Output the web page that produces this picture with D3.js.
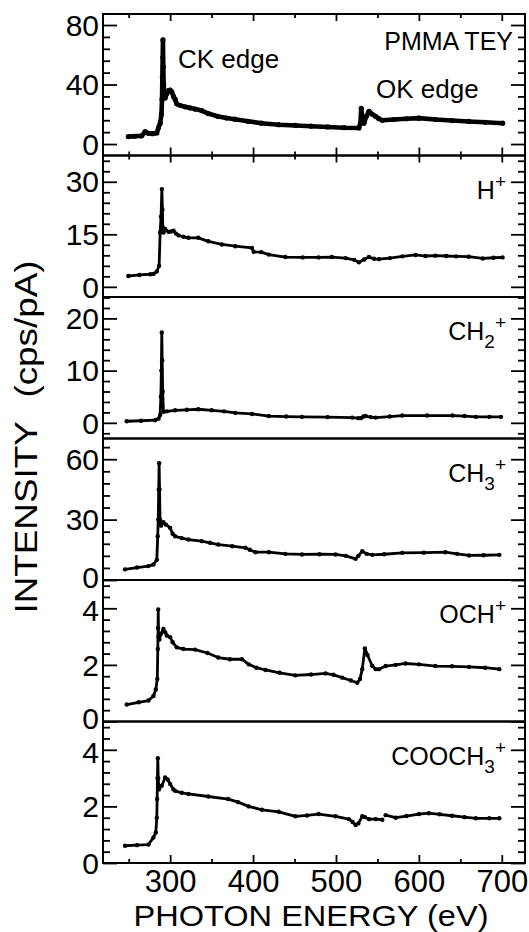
<!DOCTYPE html>
<html lang="en">
  <head>
    <meta charset="UTF-8" />
    <title>PMMA ion yields</title>
    <style>
      body { margin: 0; background: #fff; }
      svg { display: block; }
      text { font-family: "Liberation Sans", Arial, Helvetica, sans-serif; fill: #000; }
    </style>
  </head>
  <body>
    <svg width="529" height="932"></svg>
    <script src="https://cdnjs.cloudflare.com/ajax/libs/d3/7.8.5/d3.min.js"></script>
    <script>
      // [photon energy (eV), intensity (cps/pA)]
      var teyData = [
        [249.6, 5], [257, 5.2], [265.7, 5.5], [269.8, 8.3], [273.8, 7.2], [279, 7], [283.9, 7.5],
        [285.9, 11], [288, 14], [289.5, 20], [290.2, 30], [290.6, 45], [291, 58], [291.3, 70],
        [291.7, 52], [292.2, 40], [293, 33], [294, 31], [296, 34], [298, 36], [300, 36.3],
        [302, 35], [304, 32], [306, 30], [308, 27], [312, 26], [318, 25], [324, 24.3],
        [330, 23.5], [338, 22.5], [346, 20.5], [358, 18.5], [368, 17.5], [378, 16.7],
        [394, 15.3], [410, 14], [431, 13], [451, 12.5], [470, 12], [490, 11.5], [510, 11],
        [527.7, 10.8], [529.5, 14], [530.5, 24], [531.5, 18], [533.7, 14], [537, 19],
        [539.8, 22], [543.8, 20], [547.8, 18.6], [551.9, 17], [555.9, 16], [570, 16.5],
        [585, 17], [600, 17.4], [620, 16.5], [640, 15.8], [660, 15.2], [680, 14.6], [701, 14]
      ];
      var hData = [
        [249.6, 3.1], [263, 3.4], [276, 3.6], [279.8, 3.7], [283.9, 4.4], [286.7, 6],
        [287.9, 15.5], [289, 20], [290, 27.9], [290.7, 22], [291.1, 17], [292, 15.5],
        [294, 16.5], [298, 15.7], [301, 15.8], [304, 16], [307, 15.2], [310, 14.7],
        [316, 14.3], [322, 14], [334, 14], [346, 13], [362.5, 12.1], [378.6, 11.6],
        [398.7, 11.1], [400.8, 10], [410, 9.9], [419, 9.2], [439, 8.5], [460, 8.4],
        [479, 8.4], [495, 8.5], [511.6, 8.2], [522, 7.7], [527.7, 7], [534, 7.8],
        [539.8, 8.5], [546, 8], [551.9, 7.9], [565, 8.2], [580, 8.7], [596, 9.1],
        [608, 8.8], [620, 8.9], [633, 8.8], [645, 8.7], [660, 8.6], [677, 8.1],
        [690, 8.3], [701, 8.4]
      ];
      var ch2Data = [
        [247.6, 0.3], [265, 0.4], [281.9, 0.5], [286, 0.8], [287.9, 1.5], [288.8, 5],
        [289.4, 10], [289.9, 17.3], [290.4, 12], [291, 6], [291.9, 2.1], [296, 2.2],
        [306, 2.4], [320, 2.5], [334, 2.6], [350, 2.4], [365, 2.2], [378.6, 1.9],
        [398.7, 1.7], [419, 1.3], [440, 1.2], [459, 1.15], [490, 1.1], [519.6, 1.0],
        [527, 0.9], [530, 0.9], [533, 1.2], [535.8, 1.3], [542, 1.1], [547.8, 1.0],
        [565, 1.2], [580, 1.4], [610, 1.4], [640.5, 1.4], [655, 1.3], [668.7, 1.15],
        [685, 1.15], [699, 1.15]
      ];
      var ch3Data = [
        [245.6, 5.3], [260, 6.2], [273.8, 6.9], [279.8, 7.7], [283.9, 10], [285, 21.7],
        [285.6, 30], [286.2, 45], [286.7, 58], [287.2, 45], [287.8, 30], [289, 27],
        [291.9, 28.7], [295, 27.5], [300, 25.9], [303, 23], [306, 21.7], [314, 20.8],
        [322, 20.1], [338, 19.3], [348, 18.5], [358, 17.6], [375, 16.8], [390.7, 16],
        [396, 15], [402.8, 13.8], [419, 13.8], [439, 13], [459, 12.7], [480, 12.8],
        [499.5, 12.7], [512, 12], [523.7, 10.5], [527, 12], [531.7, 14.3], [537, 13],
        [543.8, 12.5], [558, 12.8], [580, 13.5], [606, 13.6], [632, 13.8], [646, 13],
        [660.7, 12.2], [678, 12.3], [697, 12.5]
      ];
      var ochData = [
        [247.6, 0.6], [262, 0.68], [273.8, 0.74], [279.8, 0.9], [282.7, 1.13], [284.5, 1.5],
        [285.1, 2.56], [285.4, 3.3], [285.6, 3.96], [286, 3.0], [287, 2.9], [289, 3.1],
        [291.9, 3.27], [294, 3.15], [296, 3.04], [300, 2.98], [303, 2.8], [308, 2.62],
        [316, 2.56], [330, 2.54], [345, 2.42], [358, 2.26], [372, 2.2], [386.6, 2.2],
        [394.7, 2.02], [404, 1.9], [415, 1.82], [432, 1.72], [451, 1.63], [470, 1.66],
        [487.4, 1.7], [497, 1.65], [507.5, 1.55], [518, 1.45], [525.7, 1.37], [529, 1.5],
        [531.7, 1.85], [534.9, 2.58], [538, 2.35], [543.8, 1.96], [548, 1.85], [551.9, 1.85],
        [559.9, 1.96], [572, 2.0], [584, 2.05], [600, 2.02], [620, 1.96], [640, 1.95],
        [660.7, 1.93], [680, 1.9], [697, 1.85]
      ];
      var cooch3Data = [
        [245.6, 0.61], [260, 0.63], [273.8, 0.65], [279.8, 0.9], [282.7, 1.08], [283.9, 1.6],
        [284.3, 2.26], [284.7, 3.0], [285.1, 3.7], [285.6, 3.0], [286.5, 2.6], [289.9, 2.73],
        [294, 3.02], [297, 2.95], [300, 2.79], [304, 2.6], [306, 2.55], [314, 2.48],
        [322, 2.44], [346, 2.35], [370, 2.26], [382, 2.15], [394.7, 2.0], [410.8, 1.88],
        [431, 1.81], [451, 1.65], [465, 1.68], [479, 1.73], [499.5, 1.65], [515.6, 1.55],
        [520, 1.45], [523.7, 1.34], [527, 1.4], [531.7, 1.65], [535, 1.62], [539.8, 1.55],
        [548, 1.55], [555.9, 1.53], [558, null], [559.9, 1.69], [572, 1.6], [585, 1.66],
        [600, 1.73], [612, 1.76], [625, 1.72], [640, 1.67], [655, 1.62], [668.7, 1.58],
        [685, 1.58], [697, 1.58]
      ];

      var xTicks = [300, 400, 500, 600, 700];
      var xMinor = [250, 350, 450, 550, 650];

      var panels = [
        { data: teyData, domain: [-7.7, 87.4], major: [0, 40, 80], minor: 8, label: "TEY" },
        { data: hData, domain: [-2.9, 37.5], major: [0, 15, 30], minor: 3, label: "H" },
        { data: ch2Data, domain: [-3.0, 24.1], major: [0, 10, 20], minor: 2, label: "CH2" },
        { data: ch3Data, domain: [0, 70.3], major: [0, 30, 60], minor: 6, label: "CH3" },
        { data: ochData, domain: [0, 5], major: [0, 2, 4], minor: 0.4, label: "OCH" },
        { data: cooch3Data, domain: [0, 5], major: [0, 2, 4], minor: 0.4, label: "COOCH3" }
      ];

      var svg = d3.select("svg");
      var left = 103, right = 525, top0 = 14, ph = 141.5;

      var x = d3.scaleLinear().domain([219, 728]).range([left, right]);

      function minorTicks(p) {
        var out = [];
        var k0 = Math.ceil(p.domain[0] / p.minor), k1 = Math.floor(p.domain[1] / p.minor);
        for (var k = k0; k <= k1; k++) {
          var v = +(k * p.minor).toFixed(3);
          if (p.major.indexOf(v) < 0) out.push(v);
        }
        return out;
      }

      function styleAxis(g) {
        g.select(".domain").remove();
        g.selectAll("line").attr("stroke", "#000").attr("stroke-width", 1.8);
        g.attr("font-size", null).attr("font-family", null);
      }

      panels.forEach(function (p, i) {
        var top = top0 + i * ph, bottom = top + ph;
        var y = d3.scaleLinear().domain(p.domain).range([bottom, top]);

        var g = svg.append("g");

        // left axis, major ticks with labels
        g.append("g")
          .attr("transform", "translate(" + left + ",0)")
          .call(d3.axisLeft(y).tickValues(p.major).tickSize(-14).tickPadding(4).tickFormat(d3.format("d")))
          .call(styleAxis)
          .selectAll("text")
          .style("font-size", "30px")
          .attr("dy", "0.34em")
          // a "0" sitting on a panel join is nudged up a little so it clears the label below
          .attr("y", function (d) {
            if (d === 0 && p.domain[0] === 0 && i < panels.length - 1) return -3;
            if (i > 0 && d === p.major[2] && panels[i - 1].domain[0] === 0) return 2;
            return 0;
          });

        g.append("g")
          .attr("transform", "translate(" + left + ",0)")
          .call(d3.axisLeft(y).tickValues(minorTicks(p)).tickSize(-7).tickFormat(""))
          .call(styleAxis);

        g.append("g")
          .attr("transform", "translate(" + right + ",0)")
          .call(d3.axisRight(y).tickValues(p.major).tickSize(-14).tickFormat(""))
          .call(styleAxis);

        g.append("g")
          .attr("transform", "translate(" + right + ",0)")
          .call(d3.axisRight(y).tickValues(minorTicks(p)).tickSize(-7).tickFormat(""))
          .call(styleAxis);

        // frame
        g.append("rect")
          .attr("x", left).attr("y", top)
          .attr("width", right - left).attr("height", ph)
          .attr("fill", "none").attr("stroke", "#000").attr("stroke-width", 2);

        // data
        var line = d3.line()
          .defined(function (d) { return d[1] != null; })
          .x(function (d) { return x(d[0]); })
          .y(function (d) { return y(d[1]); });

        g.append("path")
          .datum(p.data)
          .attr("d", line)
          .attr("fill", "none")
          .attr("stroke", "#000")
          .attr("stroke-width", i === 0 ? 4.6 : 2.8)
          .attr("stroke-linejoin", "round")
          .attr("stroke-linecap", "round");

        g.selectAll("circle")
          .data(p.data.filter(function (d) { return d[1] != null; }))
          .enter().append("circle")
          .attr("cx", function (d) { return x(d[0]); })
          .attr("cy", function (d) { return y(d[1]); })
          .attr("r", i === 0 ? 2.6 : 2.2)
          .attr("fill", "#000");

        // panel label
        var t = g.append("text")
          .attr("text-anchor", "end")
          .style("font-size", "25px");
        if (i === 0) {
          t.attr("x", 513).attr("y", top + 36).text("PMMA TEY");
        } else {
          t.attr("x", 506).attr("y", top + 43);
          var base = p.label.replace(/\d$/, "");
          var sub = p.label.match(/\d$/);
          t.append("tspan").text(base);
          if (sub) {
            t.append("tspan").attr("dy", 8).style("font-size", "19px").text(sub[0]);
            t.append("tspan").attr("dy", -19).style("font-size", "19px").text("+");
          } else {
            t.append("tspan").attr("dy", -11).style("font-size", "19px").text("+");
          }
        }

        // x ticks on the top frame and the TEY / ion frame join, and the very bottom
        if (i === 0 || i === 1) {
          g.append("g")
            .attr("transform", "translate(0," + top + ")")
            .call(d3.axisTop(x).tickValues(xTicks).tickSize(-7).tickFormat(""))
            .call(styleAxis);
          g.append("g")
            .attr("transform", "translate(0," + top + ")")
            .call(d3.axisTop(x).tickValues(xMinor).tickSize(-4).tickFormat(""))
            .call(styleAxis);
        }
        if (i === 0 || i === panels.length - 1) {
          var xb = g.append("g")
            .attr("transform", "translate(0," + bottom + ")")
            .call(d3.axisBottom(x).tickValues(xTicks).tickSize(-8).tickPadding(7).tickFormat(d3.format("d")))
            .call(styleAxis);
          if (i === 0) xb.selectAll("text").remove();
          else xb.selectAll("text").style("font-size", "31px");
          g.append("g")
            .attr("transform", "translate(0," + bottom + ")")
            .call(d3.axisBottom(x).tickValues(xMinor).tickSize(-4).tickFormat(""))
            .call(styleAxis);
        }
      });

      // edge annotations in the TEY panel
      svg.append("text").attr("x", 178).attr("y", 68).style("font-size", "26px").text("CK edge");
      svg.append("text").attr("x", 376).attr("y", 98).style("font-size", "26px").text("OK edge");

      // axis titles
      var yt = svg.append("text")
        .attr("transform", "translate(37,437) rotate(-90)")
        .attr("text-anchor", "middle")
        .attr("textLength", 353)
        .attr("lengthAdjust", "spacingAndGlyphs")
        .style("font-size", "31px");
      yt.append("tspan").text("INTENSITY");
      yt.append("tspan").attr("dx", 20).text("(cps/pA)");

      svg.append("text")
        .attr("x", 311).attr("y", 926)
        .attr("text-anchor", "middle")
        .attr("textLength", 355)
        .attr("lengthAdjust", "spacingAndGlyphs")
        .style("font-size", "30px")
        .text("PHOTON ENERGY (eV)");
    </script>
  </body>
</html>
